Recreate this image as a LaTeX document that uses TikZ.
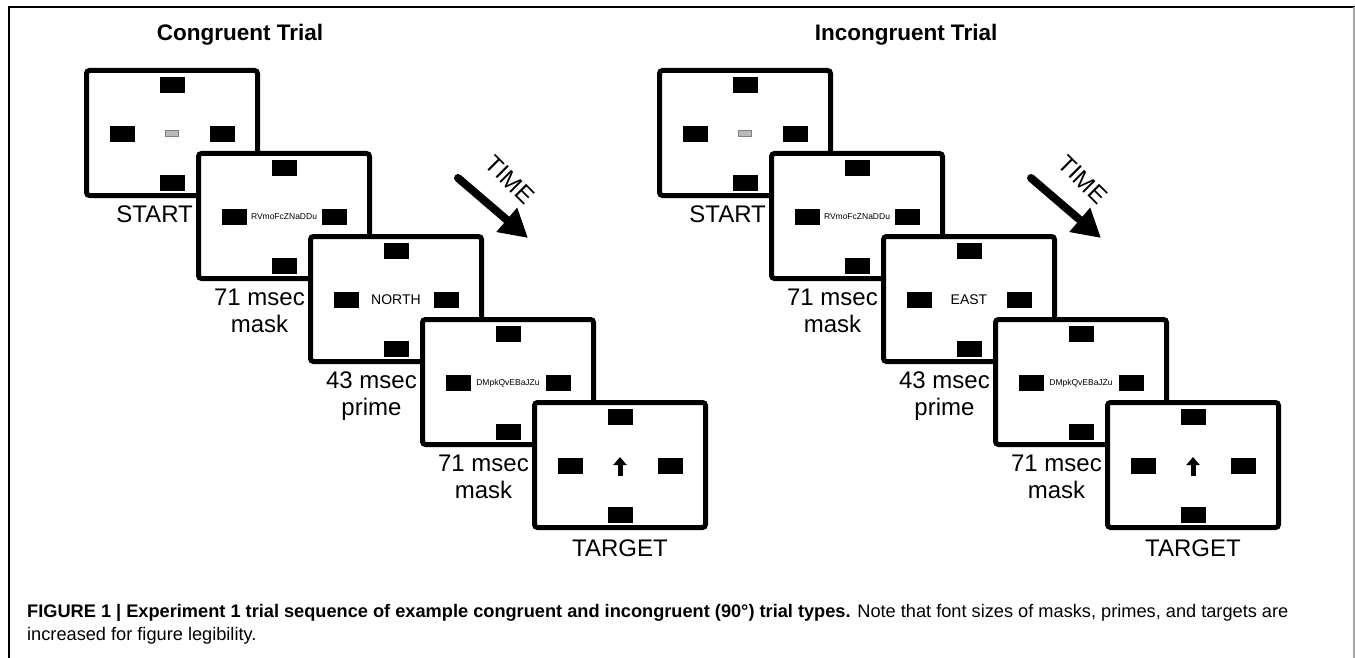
\documentclass[tikz,border=0pt]{standalone}
\usepackage{fontspec}
\setmainfont{Liberation Sans}
\usetikzlibrary{arrows.meta}
\usetikzlibrary{calc}

\tikzset{
  screen/.style={draw, line width=5pt, rounded corners=3pt, fill=white,
    minimum width=171pt, minimum height=125pt, inner sep=0pt},
  slot/.style={fill=black, minimum width=25pt, minimum height=16pt, inner sep=0pt},
  fixdot/.style={fill=gray!55, draw=gray, line width=1pt, minimum width=13pt, minimum height=6pt, inner sep=0pt},
  stim/.style={font=\fontsize{8.5}{8.5}\selectfont, inner sep=0pt},
  bigstim/.style={font=\fontsize{14}{14}\selectfont, inner sep=0pt},
  tag/.style={font=\fontsize{24}{27}\selectfont, align=center, inner sep=0pt},
  trialtitle/.style={font=\fontsize{22.5}{22.5}\selectfont\bfseries, inner sep=0pt},
  timelabel/.style={font=\fontsize{24}{24}\selectfont, inner sep=0pt},
  timearrow/.style={line width=8pt, line cap=round, -{Triangle[length=28pt,width=30pt]}},
  caption/.style={font=\fontsize{18.2}{22}\selectfont, inner sep=0pt},
}

\begin{document}
\begin{tikzpicture}[x=1pt,y=-1pt]
\useasboundingbox (0,0) rectangle (1355,658);

% frame of the figure
\draw[line width=1.2pt] (9,658) -- (9,7) -- (1355,7);
\draw[gray!70, line width=1.2pt] (1354,7) -- (1354,658);

\foreach \trial/\dx/\word/\tx/\ttl in {c/0/NORTH/240/Congruent Trial, i/573/EAST/906/Incongruent Trial} {
  \node[trialtitle] (\trial title) at (\tx,35) {\ttl};

  % the five screens, each one over the one before
  \foreach \k/\cue/\lab in {1/{}/START, 2/RVmoFcZNaDDu/{71 msec\\mask},
      3/{}/{43 msec\\prime}, 4/DMpkQvEBaJZu/{71 msec\\mask}, 5/{}/TARGET} {
    \node[screen] (\trial\k) at ({172+\dx+112*(\k-1)},{133+83*(\k-1)}) {};
    \node[slot] (\trial\k n) at ($(\trial\k.center)+(0,-48)$) {};
    \node[slot] (\trial\k s) at ($(\trial\k.center)+(0,50)$) {};
    \node[slot] (\trial\k w) at ($(\trial\k.center)+(-50,1)$) {};
    \node[slot] (\trial\k e) at ($(\trial\k.center)+(50,1)$) {};
    \node[stim] (\trial\k cue) at ($(\trial\k.center)+(0,1)$) {\cue};
    \ifnum\k=1
      \node[fixdot] (\trial fix) at ($(\trial\k.center)+(0,1)$) {};
    \fi
    \ifnum\k=3
      \node[bigstim] (\trial prime) at ($(\trial\k.center)+(0,1)$) {\word};
    \fi
    \ifnum\k=5
      \draw[line width=5pt, -{Triangle[length=8pt,width=13pt]}]
        ($(\trial\k.center)+(0,11)$) -- ($(\trial\k.center)+(0,-8)$);
      \node[tag, anchor=north] (\trial tag\k) at ($(\trial\k.south)+(0,10)$) {\lab};
    \else
      \node[tag, anchor=north east] (\trial tag\k) at ($(\trial\k.south west)+(109,8)$) {\lab};
    \fi
  }

  % time arrow
  \coordinate (\trial tail) at (458+\dx,178);
  \coordinate (\trial tip) at (528+\dx,238);
  \draw[timearrow] (\trial tail) -- (\trial tip);
  \node[timelabel, rotate=-45] (\trial time) at (510+\dx,180) {TIME};
}

% caption
\node[caption, anchor=base west] (cap1) at (27,617)
  {\textbf{FIGURE 1 | Experiment 1 trial sequence of example congruent and incongruent (90°) trial types.} Note that font sizes of masks, primes, and targets are};
\node[caption, anchor=base west] (cap2) at (27,640) {increased for figure legibility.};
\end{tikzpicture}
\end{document}
